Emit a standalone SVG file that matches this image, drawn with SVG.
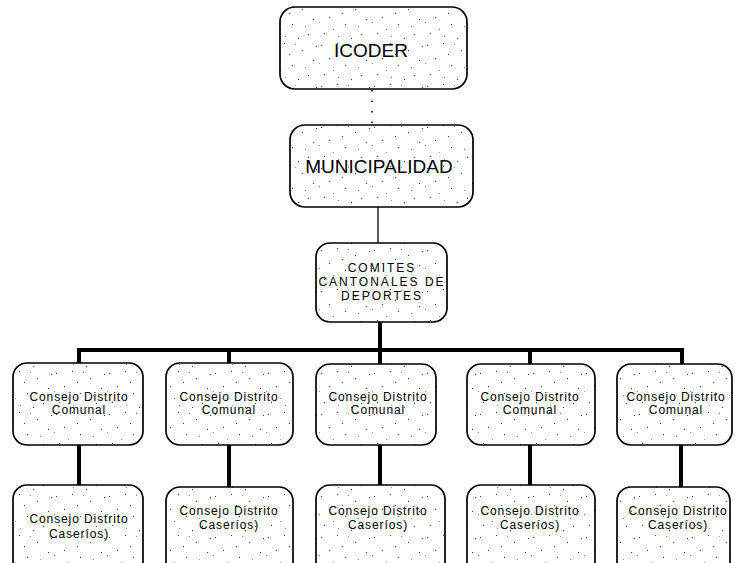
<svg xmlns="http://www.w3.org/2000/svg" width="735" height="563" viewBox="0 0 735 563">
<defs>
<pattern id="stip" width="53" height="41" patternUnits="userSpaceOnUse">
<rect width="53" height="41" fill="#ffffff"/>
<g fill="#444">
<rect x="3" y="4" width="1" height="1"/><rect x="19" y="2" width="1" height="1"/><rect x="37" y="9" width="1" height="1"/>
<rect x="48" y="19" width="1" height="1"/><rect x="11" y="17" width="1" height="1"/><rect x="27" y="24" width="1" height="1"/>
<rect x="6" y="33" width="1" height="1"/><rect x="43" y="34" width="1" height="1"/><rect x="24" y="13" width="1" height="1"/>
<rect x="33" y="38" width="1" height="1"/><rect x="51" y="5" width="1" height="1"/>
</g>
<g fill="#999">
<rect x="15" y="29" width="1" height="1"/><rect x="30" y="3" width="1" height="1"/><rect x="40" y="26" width="1" height="1"/>
<rect x="1" y="22" width="1" height="1"/><rect x="20" y="36" width="1" height="1"/>
</g>
</pattern>
</defs>
<style>
.box{fill:url(#stip);stroke:#000;stroke-width:1.7}
.t{font-family:"Liberation Sans",Arial,sans-serif;fill:#000;text-anchor:middle}
.big{font-size:19px}
.cap{font-size:12px;letter-spacing:2px}
.sm{font-size:12px;letter-spacing:0.9px}
.thick{stroke:#000;stroke-width:4;fill:none}
.thin{stroke:#000;stroke-width:1.3;fill:none}
</style>
<g id="connectors">
<line x1="372" y1="90" x2="372" y2="125" stroke="#000" stroke-width="1.5" stroke-dasharray="1.5 9"/>
<line class="thin" x1="378" y1="207" x2="378" y2="243"/>
<line class="thick" x1="380" y1="322" x2="380" y2="350"/>
<line class="thick" x1="77" y1="350" x2="684" y2="350"/>
<line class="thick" x1="79" y1="348" x2="79" y2="364"/>
<line class="thick" x1="229" y1="348" x2="229" y2="364"/>
<line class="thick" x1="380" y1="348" x2="380" y2="365"/>
<line class="thick" x1="530" y1="348" x2="530" y2="365"/>
<line class="thick" x1="682" y1="348" x2="682" y2="364"/>
<line class="thick" x1="79" y1="445" x2="79" y2="485"/>
<line class="thick" x1="229" y1="445" x2="229" y2="487"/>
<line class="thick" x1="380" y1="445" x2="380" y2="485"/>
<line class="thick" x1="530" y1="445" x2="530" y2="485"/>
<line class="thick" x1="681" y1="445" x2="681" y2="487"/>
</g>
<g id="icoder">
<rect class="box" x="280" y="7" width="187" height="82" rx="15"/>
<text class="t big" x="371" y="57">ICODER</text>
</g>
<g id="municipalidad">
<rect class="box" x="290" y="125" width="183" height="82" rx="15"/>
<text class="t big" x="379" y="173">MUNICIPALIDAD</text>
</g>
<g id="comites">
<rect class="box" x="316" y="243" width="131" height="79" rx="14"/>
<text class="t cap" x="382" y="272">COMITES</text>
<text class="t cap" x="382" y="286">CANTONALES DE</text>
<text class="t cap" x="382" y="300">DEPORTES</text>
</g>
<g id="comunal1">
<rect class="box" x="13" y="363" width="130" height="82" rx="14"/>
<text class="t sm" x="79" y="401">Consejo Distrito</text>
<text class="t sm" x="79" y="414">Comunal</text>
</g>
<g id="comunal2">
<rect class="box" x="166" y="363" width="127" height="82" rx="14"/>
<text class="t sm" x="229" y="401">Consejo Distrito</text>
<text class="t sm" x="229" y="414">Comunal</text>
</g>
<g id="comunal3">
<rect class="box" x="316" y="364" width="120" height="81" rx="14"/>
<text class="t sm" x="378" y="401">Consejo Distrito</text>
<text class="t sm" x="378" y="414">Comunal</text>
</g>
<g id="comunal4">
<rect class="box" x="467" y="364" width="128" height="81" rx="14"/>
<text class="t sm" x="530" y="401">Consejo Distrito</text>
<text class="t sm" x="530" y="414">Comunal</text>
</g>
<g id="comunal5">
<rect class="box" x="617" y="364" width="115" height="81" rx="14"/>
<text class="t sm" x="676" y="401">Consejo Distrito</text>
<text class="t sm" x="676" y="414">Comunal</text>
</g>
<g id="caserios1">
<rect class="box" x="13" y="485" width="130" height="100" rx="14"/>
<text class="t sm" x="79" y="523">Consejo Distrito</text>
<text class="t sm" x="79" y="538">Caseríos)</text>
</g>
<g id="caserios2">
<rect class="box" x="166" y="487" width="127" height="100" rx="14"/>
<text class="t sm" x="229" y="515">Consejo Distrito</text>
<text class="t sm" x="229" y="529">Caseríos)</text>
</g>
<g id="caserios3">
<rect class="box" x="316" y="485" width="129" height="100" rx="14"/>
<text class="t sm" x="378" y="515">Consejo Distrito</text>
<text class="t sm" x="378" y="529">Caseríos)</text>
</g>
<g id="caserios4">
<rect class="box" x="467" y="485" width="128" height="100" rx="14"/>
<text class="t sm" x="530" y="515">Consejo Distrito</text>
<text class="t sm" x="530" y="529">Caseríos)</text>
</g>
<g id="caserios5">
<rect class="box" x="617" y="487" width="113" height="100" rx="14"/>
<text class="t sm" x="678" y="515">Consejo Distrito</text>
<text class="t sm" x="678" y="529">Caseríos)</text>
</g>
</svg>
